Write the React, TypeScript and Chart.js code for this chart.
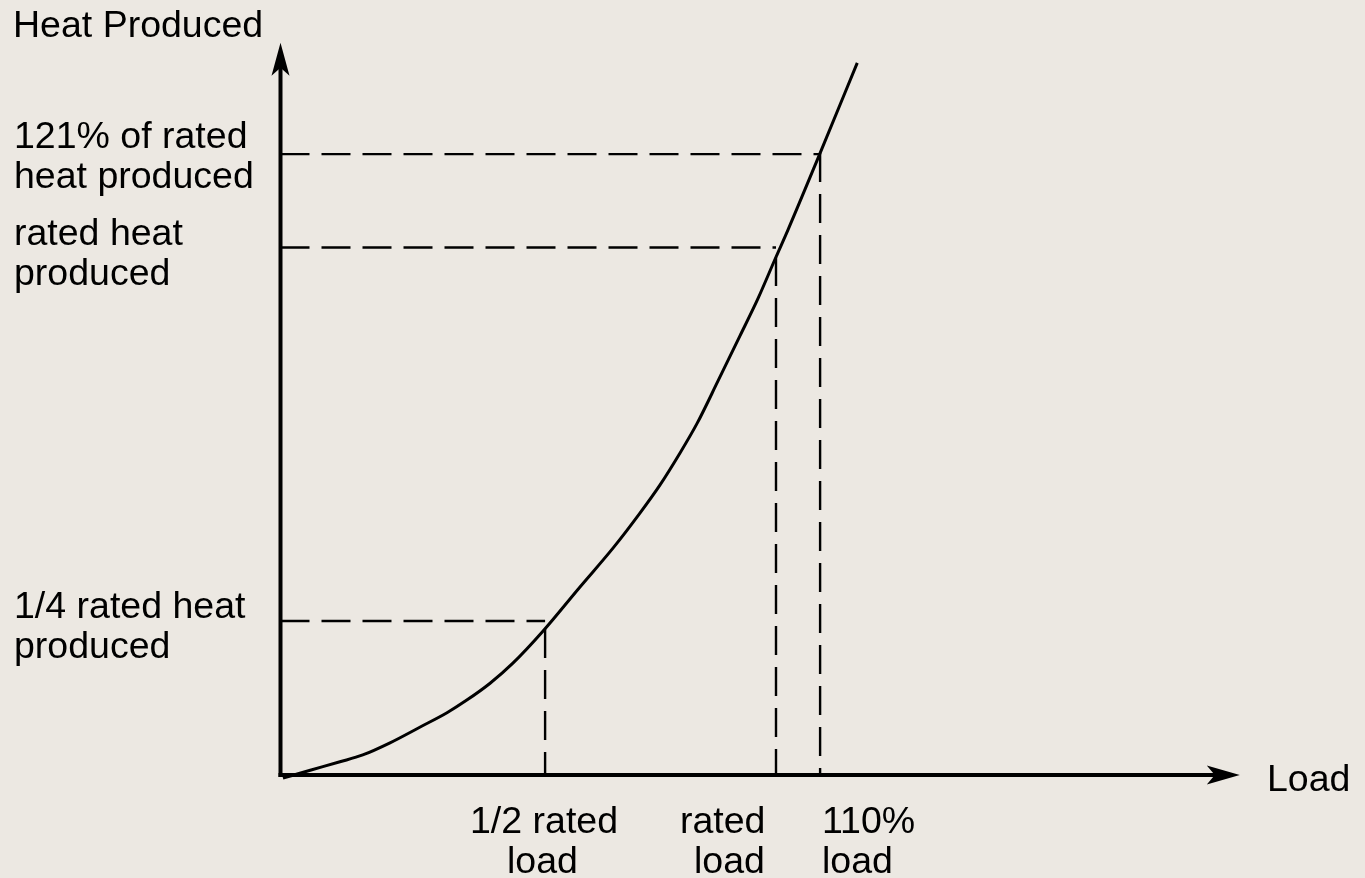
import React, { useEffect, useRef } from "react";
import { Chart, registerables } from "chart.js";

Chart.register(...registerables);

// Load in % of rated load, heat in % of rated heat
const curveLoad = [0.5, 6.0, 12.0, 16.6, 22.1, 28.2, 33.6, 37.6, 42.3, 46.9, 53.0, 60.4, 67.1, 72.5, 76.6, 80.6, 84.1, 88.3, 92.7, 96.4, 100, 102.4, 108.9, 116.4];
const curveHeat = [-0.6, 0.9, 2.5, 3.8, 6.1, 9.1, 11.8, 14.2, 17.4, 21.2, 27.3, 35.6, 43.0, 49.6, 55.0, 61.0, 66.7, 74.7, 83.2, 90.4, 98.2, 103.3, 117.9, 135.0];

// horizontal dashed guides: heat level and the load where each one stops
const guideHeat = [29.2, 100, 117.7];
const guideHeatEnd = [53.4, 100, 108.9];
// vertical dashed guides: load level and the heat where each one starts
const guideLoad = [53.4, 100, 108.9];
const guideLoadTop = [27.7, 98.2, 117.9];

const yLabels = [["1/4 rated heat", "produced"], ["rated heat", "produced"], ["121% of rated", "heat produced"]];
const xLabels = [["1/2 rated", "load"], ["rated", "load"], ["110%", "load"]];
const yAxisTitle = "Heat Produced";
const xAxisTitle = "Load";
const axisMaxLoad = 193.6;
const axisMaxHeat = 138.8;

const BG = "#ECE8E2";
const FONT = "37.5px 'Liberation Sans', Arial, Helvetica, sans-serif";

export default function App() {
  const ref = useRef<HTMLCanvasElement | null>(null);

  useEffect(() => {
    document.body.style.margin = "0";
    const canvas = ref.current;
    if (!canvas) return;

    const guideSets: any[] = [];
    guideHeat.forEach((h, i) => {
      guideSets.push({
        data: [{ x: 0, y: h }, { x: guideHeatEnd[i], y: h }],
        borderColor: "#000",
        borderWidth: 2.4,
        borderDash: [29, 12],
        borderCapStyle: "butt",
        pointRadius: 0,
        clip: false,
      });
    });
    guideLoad.forEach((l, i) => {
      guideSets.push({
        data: [{ x: l, y: guideLoadTop[i] }, { x: l, y: 0 }],
        borderColor: "#000",
        borderWidth: 2.4,
        borderDash: [29, 12],
        borderCapStyle: "butt",
        pointRadius: 0,
        clip: false,
      });
    });

    const decor = {
      id: "decor",
      beforeDraw(chart: any) {
        const c = chart.ctx;
        c.save();
        c.fillStyle = BG;
        c.fillRect(0, 0, chart.width, chart.height);
        c.restore();
      },
      beforeDatasetsDraw(chart: any) {
        const c = chart.ctx;
        const xs = chart.scales.x;
        const ys = chart.scales.y;
        const x0 = xs.getPixelForValue(0);
        const y0 = ys.getPixelForValue(0);
        const xTip = xs.getPixelForValue(axisMaxLoad);
        const yTip = ys.getPixelForValue(axisMaxHeat);
        c.save();
        c.strokeStyle = "#000";
        c.fillStyle = "#000";
        c.lineWidth = 4;
        c.lineCap = "butt";
        c.beginPath();
        c.moveTo(x0, y0 + 2);
        c.lineTo(x0, yTip + 20);
        c.stroke();
        c.beginPath();
        c.moveTo(x0 - 2, y0);
        c.lineTo(xTip - 20, y0);
        c.stroke();
        c.beginPath();
        c.moveTo(x0, yTip);
        c.lineTo(x0 + 9, yTip + 33);
        c.lineTo(x0, yTip + 25);
        c.lineTo(x0 - 9, yTip + 33);
        c.closePath();
        c.fill();
        c.beginPath();
        c.moveTo(xTip, y0);
        c.lineTo(xTip - 33, y0 - 9.5);
        c.lineTo(xTip - 25, y0);
        c.lineTo(xTip - 33, y0 + 9.5);
        c.closePath();
        c.fill();
        c.restore();
      },
      afterDraw(chart: any) {
        const c = chart.ctx;
        c.save();
        c.fillStyle = "#000";
        c.font = FONT;
        c.textBaseline = "alphabetic";
        c.textAlign = "left";
        c.fillText(yAxisTitle, 13, 37);
        c.fillText(xAxisTitle, 1267, 791);
        const yBase = [618, 245, 148];
        yLabels.forEach((lines, i) => {
          lines.forEach((t, j) => c.fillText(t, 14, yBase[i] + j * 40));
        });
        const xLeft = [[470, 507], [680, 694], [822, 822]];
        xLabels.forEach((lines, i) => {
          lines.forEach((t, j) => c.fillText(t, xLeft[i][j], 833 + j * 40));
        });
        c.restore();
      },
    };

    const chart = new Chart(canvas, {
      type: "line",
      data: {
        datasets: [
          {
            data: curveLoad.map((x, i) => ({ x, y: curveHeat[i] })),
            borderColor: "#000",
            borderWidth: 3,
            pointRadius: 0,
            cubicInterpolationMode: "monotone",
            clip: false,
          },
          ...guideSets,
        ],
      },
      options: {
        animation: false,
        responsive: false,
        devicePixelRatio: 1,
        layout: { padding: { left: 280.5, right: 93.5, top: 36.5, bottom: 103 } },
        scales: {
          x: { type: "linear", min: 0, max: 200, display: false },
          y: { type: "linear", min: 0, max: 140, display: false },
        },
        plugins: { legend: { display: false }, tooltip: { enabled: false } },
        events: [],
      },
      plugins: [decor],
    } as any);

    return () => chart.destroy();
  }, []);

  return (
    <div style={{ position: "fixed", left: 0, top: 0, width: 1365, height: 878, background: BG }}>
      <canvas ref={ref} width={1365} height={878} style={{ display: "block" }} />
    </div>
  );
}
